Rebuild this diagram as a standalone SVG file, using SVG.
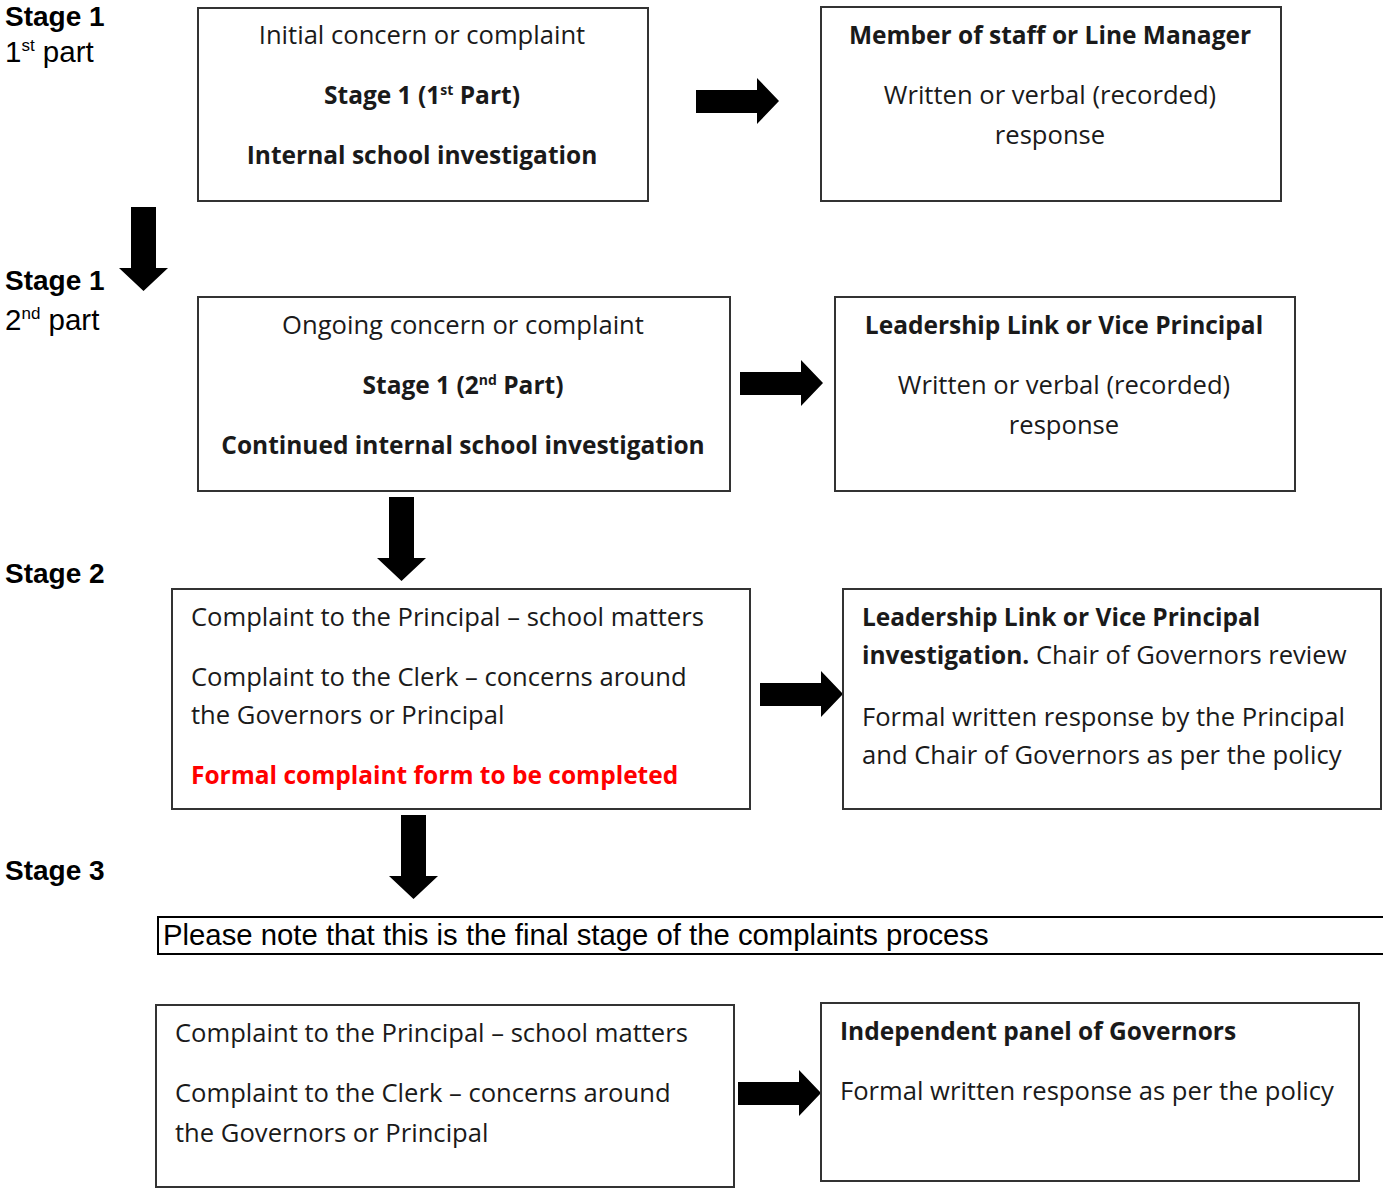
<svg xmlns="http://www.w3.org/2000/svg" width="1383" height="1189" viewBox="0 0 1383 1189">
<defs>
<style>
.box{fill:#fff;stroke:#333;stroke-width:2}
.t{font-family:"Open Sans",Lato,sans-serif;font-size:25.6px;fill:#1a1a1a}
.c{text-anchor:middle}
.b{font-weight:bold;font-size:24.5px}
.lab{font-family:"Liberation Sans",Arial,sans-serif;font-size:28px;fill:#000}
.lb{font-weight:bold}
</style>
<path id="ra" d="M0,10 H61 V-2 L83,21 L61,44 V33 H0 Z"/>
<path id="da" d="M12,0 H37 V61 H49 L24.5,84 L0,61 H12 Z"/>
</defs>
<rect width="1383" height="1189" fill="#fff"/>
<g id="labels">
<text class="lab lb" x="5" y="26">Stage 1</text>
<text class="lab" x="5" y="62" style="font-size:29.5px">1<tspan style="font-size:17px" dy="-11">st</tspan><tspan dy="11"> part</tspan></text>
<text class="lab lb" x="5" y="290">Stage 1</text>
<text class="lab" x="5" y="330" style="font-size:29.5px">2<tspan style="font-size:17px" dy="-11">nd</tspan><tspan dy="11"> part</tspan></text>
<text class="lab lb" x="5" y="583">Stage 2</text>
<text class="lab lb" x="5" y="880">Stage 3</text>
</g>
<g id="connectors">
<use href="#ra" x="696" y="80"/>
<use href="#ra" x="740" y="362"/>
<use href="#ra" x="760" y="673"/>
<use href="#ra" x="738" y="1072"/>
<use href="#da" x="119" y="207"/>
<use href="#da" x="377" y="497"/>
<use href="#da" x="389" y="815"/>
</g>
<g id="n1">
<rect class="box" x="198" y="8" width="450" height="193"/>
<text class="t c" x="422" y="44">Initial concern or complaint</text>
<text class="t c b" x="422" y="104">Stage 1 (1<tspan style="font-size:14px" dy="-9">st</tspan><tspan dy="9"> Part)</tspan></text>
<text class="t c b" x="422" y="164">Internal school investigation</text>
</g>
<g id="n2">
<rect class="box" x="821" y="7" width="460" height="194"/>
<text class="t c b" x="1050" y="44">Member of staff or Line Manager</text>
<text class="t c" x="1050" y="104">Written or verbal (recorded)</text>
<text class="t c" x="1050" y="144">response</text>
</g>
<g id="n3">
<rect class="box" x="198" y="297" width="532" height="194"/>
<text class="t c" x="463" y="334">Ongoing concern or complaint</text>
<text class="t c b" x="463" y="394">Stage 1 (2<tspan style="font-size:14px" dy="-9">nd</tspan><tspan dy="9"> Part)</tspan></text>
<text class="t c b" x="463" y="454">Continued internal school investigation</text>
</g>
<g id="n4">
<rect class="box" x="835" y="297" width="460" height="194"/>
<text class="t c b" x="1064" y="334">Leadership Link or Vice Principal</text>
<text class="t c" x="1064" y="394">Written or verbal (recorded)</text>
<text class="t c" x="1064" y="434">response</text>
</g>
<g id="n5">
<rect class="box" x="172" y="589" width="578" height="220"/>
<text class="t" x="191" y="626">Complaint to the Principal – school matters</text>
<text class="t" x="191" y="686">Complaint to the Clerk – concerns around</text>
<text class="t" x="191" y="724">the Governors or Principal</text>
<text class="t b" x="191" y="784" style="fill:#ff0000">Formal complaint form to be completed</text>
</g>
<g id="n6">
<rect class="box" x="843" y="589" width="538" height="220"/>
<text class="t b" x="862" y="626">Leadership Link or Vice Principal</text>
<text class="t" x="862" y="664"><tspan class="b">investigation.</tspan> Chair of Governors review</text>
<text class="t" x="862" y="726">Formal written response by the Principal</text>
<text class="t" x="862" y="764">and Chair of Governors as per the policy</text>
</g>
<g id="note">
<path d="M1383,917 H158 V954 H1383" fill="none" stroke="#000" stroke-width="2"/>
<text class="lab" x="163" y="945" style="font-size:29.3px">Please note that this is the final stage of the complaints process</text>
</g>
<g id="n7">
<rect class="box" x="156" y="1005" width="578" height="182"/>
<text class="t" x="175" y="1042">Complaint to the Principal – school matters</text>
<text class="t" x="175" y="1102">Complaint to the Clerk – concerns around</text>
<text class="t" x="175" y="1142">the Governors or Principal</text>
</g>
<g id="n8">
<rect class="box" x="821" y="1003" width="538" height="178"/>
<text class="t b" x="840" y="1040">Independent panel of Governors</text>
<text class="t" x="840" y="1100">Formal written response as per the policy</text>
</g>
</svg>
